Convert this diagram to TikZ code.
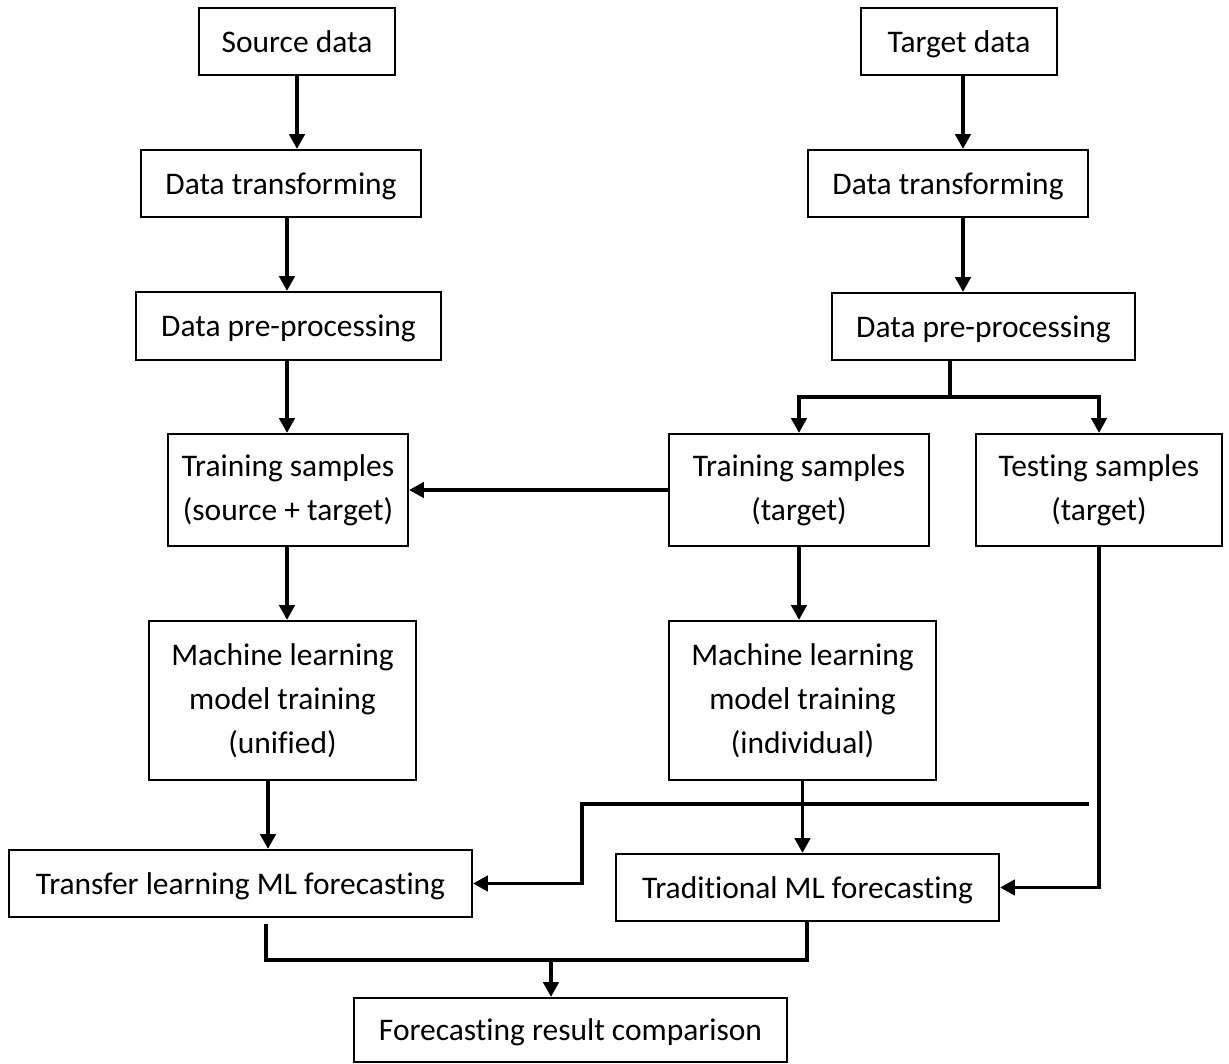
\documentclass[tikz,border=0pt]{standalone}
\usepackage{fontspec}
\setmainfont[Ligatures={NoCommon,NoRare,NoContextual}]{Carlito}
\usetikzlibrary{arrows.meta,calc}
\tikzset{
  stepbox/.style={draw, line width=1.7pt, inner sep=0pt, align=center,
    font=\fontsize{23.6pt}{33pt}\selectfont},
  oneline/.style={text depth=0pt},
  link/.style={line width=2.4pt},
  arr/.style={link, -{Triangle[length=11pt,width=11.5pt]}}
}
\begin{document}
\begin{tikzpicture}[x=0.75pt,y=-0.75pt]
\useasboundingbox (0,0) rectangle (1229,1064);
% left column: source chain
\node[stepbox, oneline, minimum width=196*0.75pt, minimum height=67*0.75pt] (src) at (297,41.5) {Source data};
\node[stepbox, oneline, minimum width=280*0.75pt, minimum height=67*0.75pt] (dtL) at (281,183.5) {Data transforming};
\node[stepbox, oneline, minimum width=305*0.75pt, minimum height=68*0.75pt] (ppL) at (288.5,326) {Data pre-processing};
\node[stepbox, minimum width=240*0.75pt, minimum height=112*0.75pt] (trS) at (288,490) {Training samples\\(source + target)};
\node[stepbox, minimum width=267*0.75pt, minimum height=159*0.75pt] (mlU) at (282.5,700.5) {Machine learning\\model training\\(unified)};
\node[stepbox, oneline, minimum width=463*0.75pt, minimum height=67*0.75pt] (tlF) at (240.5,883.5) {Transfer learning ML forecasting};
% right column: target chain
\node[stepbox, oneline, minimum width=196*0.75pt, minimum height=67*0.75pt] (tgt) at (959,41.5) {Target data};
\node[stepbox, oneline, minimum width=280*0.75pt, minimum height=67*0.75pt] (dtR) at (948,183.5) {Data transforming};
\node[stepbox, oneline, minimum width=303*0.75pt, minimum height=67*0.75pt] (ppR) at (983.5,326.5) {Data pre-processing};
\node[stepbox, minimum width=260*0.75pt, minimum height=112*0.75pt] (trT) at (799,490) {Training samples\\(target)};
\node[stepbox, minimum width=246*0.75pt, minimum height=112*0.75pt] (teT) at (1099,490) {Testing samples\\(target)};
\node[stepbox, minimum width=267*0.75pt, minimum height=159*0.75pt] (mlI) at (802.5,700.5) {Machine learning\\model training\\(individual)};
\node[stepbox, oneline, minimum width=383*0.75pt, minimum height=67*0.75pt] (trF) at (807.5,887.5) {Traditional ML forecasting};
% result
\node[stepbox, oneline, minimum width=433*0.75pt, minimum height=64*0.75pt] (cmp) at (570.5,1030) {Forecasting result comparison};

% start points of the vertical arrows, offset from the box centres
\coordinate (dtLout) at ($(dtL.south)+(6,0)$);
\coordinate (ppLout) at ($(ppL.south)+(-1.5,0)$);
\coordinate (trSout) at ($(trS.south)+(-1,0)$);
\coordinate (mlUout) at ($(mlU.south)+(-14.5,0)$);
\coordinate (tgtout) at ($(tgt.south)+(4,0)$);
\coordinate (dtRout) at ($(dtR.south)+(15,0)$);
\coordinate (tlFout) at ($(tlF.south)+(25.5,6)$);
\coordinate (trFout) at ($(trF.south)+(-0.5,0)$);
% elbow points
\coordinate (split) at (950,397);
\coordinate (stub) at (1089,804);
\coordinate (bend) at (582,804);
\coordinate (join) at (551,960);

% left chain
\draw[arr] (src.south) -- (src.south |- dtL.north);
\draw[arr] (dtLout) -- (dtLout |- ppL.north);
\draw[arr] (ppLout) -- (ppLout |- trS.north);
\draw[arr] (trSout) -- (trSout |- mlU.north);
\draw[arr] (mlUout) -- (mlUout |- tlF.north);

% right chain
\draw[arr] (tgtout) -- (tgtout |- dtR.north);
\draw[arr] (dtRout) -- (dtRout |- ppR.north);
\draw[link] (ppR.south -| split) -- (split);
\draw[arr] (split) -| (trT.north);
\draw[arr] (split) -| (teT.north);
\draw[arr] (trT.west) -- (trS.east);
\draw[arr] (trT.south) -- (trT.south |- mlI.north);
\draw[arr] (mlI.south) -- (mlI.south |- trF.north);

% testing samples feeding both forecasts
\draw[arr] (stub) -- (bend) |- (tlF.east);
\draw[arr] (teT.south) |- (trF.east);

% merge into comparison
\draw[link] (tlFout) |- (join) -| (trFout);
\draw[arr] (join) -- (join |- cmp.north);
\end{tikzpicture}
\end{document}
